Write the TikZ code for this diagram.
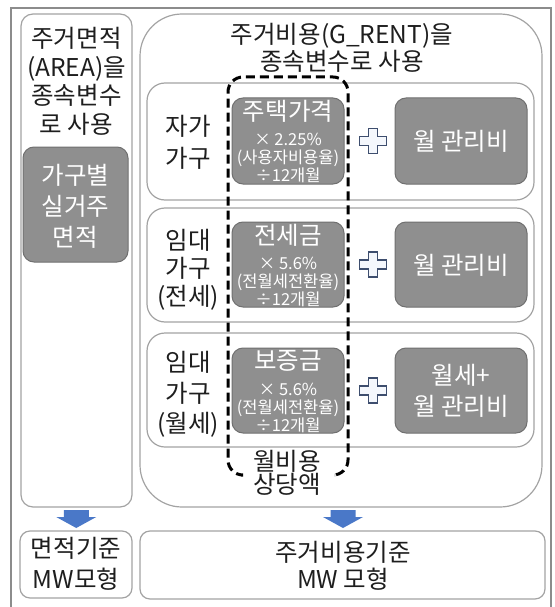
\documentclass[tikz,border=0pt]{standalone}
\usepackage{fontspec}
\setmainfont{Noto Sans CJK KR}
\usetikzlibrary{calc}
\definecolor{framecol}{HTML}{8C8C8C}
\definecolor{boxline}{HTML}{A3A3A3}
\definecolor{grayfill}{HTML}{8F8F8F}
\definecolor{grayline}{HTML}{707070}
\definecolor{plusline}{HTML}{3E4E6E}
\definecolor{plusfill}{HTML}{F4F7FC}
\definecolor{arrowblue}{HTML}{4A78C8}
\definecolor{txt}{HTML}{1E1E1E}
\begin{document}
\begin{tikzpicture}[x=1pt,y=-1pt,
  wbox/.style={draw=boxline,line width=1.2pt,fill=white,rounded corners=#1,inner sep=0pt},
  wbox/.default=18pt,
  gbox/.style={draw=grayline,line width=1pt,fill=grayfill,rounded corners=11pt,inner sep=0pt},
  bigtxt/.style={font=\fontsize{24.5}{#1}\selectfont,align=center,inner sep=0pt,text=txt},
  bigtxt/.default=28,
  whtxt/.style={font=\fontsize{24.5}{#1}\selectfont,align=center,inner sep=0pt,text=white},
  whtxt/.default=31,
  smtxt/.style={font=\fontsize{16.5}{18}\selectfont,align=center,inner sep=0pt,text=white},
  dashline/.style={draw=black,line width=3pt,dash pattern=on 9pt off 5pt,rounded corners=15pt},
  plussign/.pic={\draw[plusline,line width=1.7pt,fill=plusfill,line join=miter]
      (-4.5,-12.5) -- (4.5,-12.5) -- (4.5,-4.5) -- (13.5,-4.5) -- (13.5,4.5) -- (4.5,4.5) -- (4.5,12.5)
      -- (-4.5,12.5) -- (-4.5,4.5) -- (-13.5,4.5) -- (-13.5,-4.5) -- (-4.5,-4.5) -- cycle;},
  blockarrow/.pic={\fill[arrowblue] (-12.5,-9) -- (12.5,-9) -- (12.5,-2) -- (20,-2)
      -- (0,9) -- (-20,-2) -- (-12.5,-2) -- cycle;}
]
\useasboundingbox (0,0) rectangle (554,607);
\draw[framecol,line width=1.3pt] (11,607) -- (11,8) -- (551,8) -- (551,607);

% left column
\node[wbox=12pt,minimum width=111pt,minimum height=493pt] (areabox) at (76.5,260.5) {};
\node[bigtxt=28.5] (areatitle) at (76.5,81.5) {주거면적\\(AREA)을\\종속변수\\로 사용};
\node[gbox,minimum width=105pt,minimum height=115pt] (areagray) at (75.5,204.5) {};
\node[whtxt=31] (areagraytxt) at (75.5,206) {가구별\\실거주\\면적};

% right column
\node[wbox=42pt,minimum width=402pt,minimum height=493pt] (rentbox) at (341,260.5) {};
\node[bigtxt=27] (renttitle) at (342,47.5) {주거비용(G\_RENT)을\\종속변수로 사용};

\node[wbox,minimum width=387pt,minimum height=117pt] (row1) at (340.5,141.5) {};
\node[wbox,minimum width=387pt,minimum height=114pt] (row2) at (340.5,265) {};
\node[wbox,minimum width=387pt,minimum height=114pt] (row3) at (340.5,390) {};

\node[bigtxt=32] (lab1) at (188,142) {자가\\가구};
\node[bigtxt=28] (lab2) at (188,270) {임대\\가구\\(전세)};
\node[bigtxt=30.5] (lab3) at (188,394.5) {임대\\가구\\(월세)};

\node[gbox,minimum width=112pt,minimum height=86pt] (g1a) at (288,141) {};
\node[gbox,minimum width=112pt,minimum height=85pt] (g2a) at (288,264.5) {};
\node[gbox,minimum width=112pt,minimum height=85pt] (g3a) at (288,390.5) {};
\node[gbox,minimum width=132pt,minimum height=86pt] (g1b) at (461,141) {};
\node[gbox,minimum width=132pt,minimum height=85pt] (g2b) at (461,264.5) {};
\node[gbox,minimum width=132pt,minimum height=85pt] (g3b) at (461,390.5) {};

\node[whtxt] (t1a) at (288,111.5) {주택가격};
\node[smtxt] (s1a) at (288,158) {× 2.25\%\\(사용자비용율)\\÷12개월};
\node[whtxt] (t2a) at (288,235.5) {전세금};
\node[smtxt] (s2a) at (288,282) {× 5.6\%\\(전월세전환율)\\÷12개월};
\node[whtxt] (t3a) at (288,360.5) {보증금};
\node[smtxt] (s3a) at (288,408) {× 5.6\%\\(전월세전환율)\\÷12개월};

\node[whtxt] (t1b) at (461,141.5) {월 관리비};
\node[whtxt] (t2b) at (461,265) {월 관리비};
\node[whtxt=31] (t3b) at (461,391) {월세+\\월 관리비};

\pic at (373,141) {plussign};
\pic at (373,264.5) {plussign};
\pic at (373,390.5) {plussign};

% dashed group
\draw[dashline] (241,475) -- (228,475) -- (228,77) -- (348,77) -- (348,475) -- (335,475);
\node[bigtxt=22] (monthly) at (287,473) {월비용\\상당액};

% bottom boxes
\node[wbox=10pt,minimum width=112pt,minimum height=67pt] (areamw) at (76,564.5) {};
\node[bigtxt=31] (areamwtxt) at (76,563.5) {면적기준\\MW모형};
\node[wbox=10pt,minimum width=405pt,minimum height=68pt] (rentmw) at (342.5,565) {};
\node[bigtxt=27] (rentmwtxt) at (343,565.5) {주거비용기준\\MW 모형};

% arrows
\path (areabox.south) -- (areamw.north) coordinate[midway] (a1);
\path (rentbox.south -| rentmwtxt.north) -- (rentmw.north -| rentmwtxt.north) coordinate[midway] (a2);
\pic at (a1) {blockarrow};
\pic at (a2) {blockarrow};
\end{tikzpicture}
\end{document}
